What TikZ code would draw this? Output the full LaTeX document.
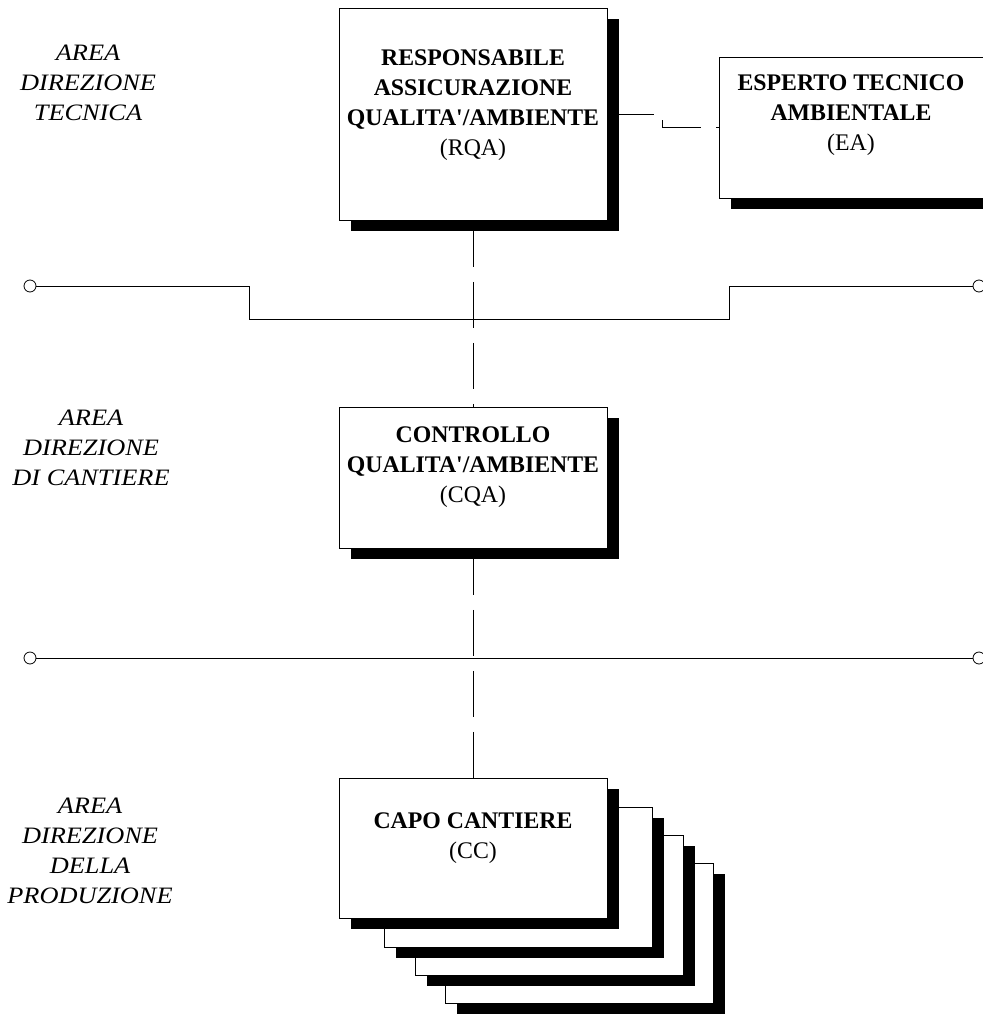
\documentclass[tikz,border=0pt]{standalone}
\usepackage{fontspec}
\setmainfont{Liberation Serif}
\newfontfamily\areafont{Liberation Serif}[FakeStretch=1.12]
\usetikzlibrary{shadows}
\begin{document}
\begin{tikzpicture}[x=1pt,y=-1pt,
  box/.style={draw,line width=0.8pt,fill=white,inner sep=0pt,anchor=north west,
    general shadow={fill=black,shadow xshift=12pt,shadow yshift=-11pt}},
  boxtext/.style={anchor=north,align=center,inner sep=0pt,font=\fontsize{23.8}{30}\selectfont},
  area/.style={anchor=north,align=center,inner sep=0pt,font=\areafont\fontsize{23.5}{30}\selectfont\itshape},
  conn/.style={line width=0.8pt,dash pattern=on 46pt off 15pt},
  sep/.style={line width=0.8pt},
  term/.style={circle,draw,line width=0.8pt,minimum size=12pt,inner sep=0pt}]
\useasboundingbox (0,0) rectangle (982,1014);
% left labels
\node[area] (lab1) at (88,45) {AREA\\DIREZIONE\\TECNICA};
\node[area] (lab2) at (91,410) {AREA\\DIREZIONE\\DI CANTIERE};
\node[area] (lab3) at (90,798) {AREA\\DIREZIONE\\DELLA\\PRODUZIONE};
% separators
\node[term] (l1) at (30,286) {};
\node[term] (r1) at (979,286) {};
\draw[sep] (l1.east) -- ++(213,0) -- ++(0,33) -- ++(480,0) |- (r1.west);
\node[term] (l2) at (30,658) {};
\node[term] (r2) at (979,658) {};
\draw[sep] (l2.east) -- (r2.west);
% boxes
\node[box,minimum width=268pt,minimum height=212pt] (rqa) at (339,8) {};
\node[boxtext] (rqat) at (473,50) {\textbf{RESPONSABILE}\\\textbf{ASSICURAZIONE}\\\textbf{QUALITA\textquotesingle/AMBIENTE}\\(RQA)};
\node[box,minimum width=264pt,minimum height=141pt] (ea) at (719,57) {};
\node[boxtext] (eat) at (851,75) {\textbf{ESPERTO TECNICO}\\\textbf{AMBIENTALE}\\(EA)};
\node[box,minimum width=268pt,minimum height=141pt] (cqa) at (339,407) {};
\node[boxtext] (cqat) at (473,427) {\textbf{CONTROLLO}\\\textbf{QUALITA\textquotesingle/AMBIENTE}\\(CQA)};
\node[box,minimum width=268pt,minimum height=140pt] (cc4) at (445,863) {};
\node[box,minimum width=268pt,minimum height=140pt] (cc3) at (415,835) {};
\node[box,minimum width=268pt,minimum height=140pt] (cc2) at (384,807) {};
\node[box,minimum width=268pt,minimum height=140pt] (cc) at (339,778) {};
\node[boxtext] (cct) at (473,813) {\textbf{CAPO CANTIERE}\\(CC)};
% connectors
\draw[conn] (rqa.east) -- ++(55,0) |- (ea.west);
\draw[conn] (rqa.south) -- (cqa.north);
\draw[conn] (cqa.south) -- (cc.north);
\end{tikzpicture}
\end{document}
